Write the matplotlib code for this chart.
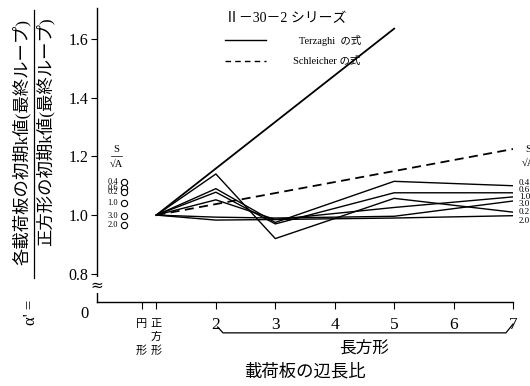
import matplotlib
matplotlib.use('Agg')
import matplotlib.pyplot as plt
from matplotlib.transforms import blended_transform_factory

plt.rcParams['font.family'] = ['Liberation Serif', 'Noto Sans CJK JP']

# 載荷板の辺長比 (1 = 正方形)
ratio = [1, 2, 3, 5, 7]
s_labels = ['0.4', '0.6', '0.2', '1.0', '3.0', '2.0']
a_04 = [1.0, 1.09, 0.975, 1.115, 1.10]
a_06 = [1.0, 1.078, 0.97, 1.076, 1.076]
a_02 = [1.0, 1.14, 0.92, 1.057, 1.01]
a_10 = [1.0, 1.052, 0.985, 1.026, 1.062]
a_30 = [1.0, 0.993, 0.99, 0.996, 1.048]
a_20 = [1.0, 0.983, 0.985, 0.99, 0.998]
# 円形板の値
circle_x = 0.45
circle_vals = [1.113, 1.091, 1.077, 1.040, 0.997, 0.966]
# 理論式
terz_x = [1, 5]
terz_y = [1.0, 1.635]
schl_x = [1, 7]
schl_y = [1.0, 1.225]

yticks = [0.8, 1.0, 1.2, 1.4, 1.6]
xticks = [2, 3, 4, 5, 6, 7]

fig = plt.figure(figsize=(5.3, 3.86), dpi=100)
ax = fig.add_axes([0.183, 0.2176, 0.785, 0.7614])
ax.set_xlim(0, 7)
ax.set_ylim(0.704, 1.705)

for ys in [a_04, a_06, a_02, a_10, a_30, a_20]:
    ax.plot(ratio, ys, color='black', lw=1.0)
ax.plot(terz_x, terz_y, color='black', lw=1.3)
ax.plot(schl_x, schl_y, color='black', lw=1.3, dashes=(5, 3))
ax.plot([circle_x] * len(circle_vals), circle_vals, 'o', mfc='white',
        mec='black', ms=4.5, mew=0.8, clip_on=False)

for s in ['top', 'right']:
    ax.spines[s].set_visible(False)
ax.spines['left'].set_linewidth(1.0)
ax.spines['bottom'].set_linewidth(1.0)

ax.set_yticks(yticks)
ax.set_yticklabels([f'{v:.1f}' for v in yticks], fontsize=11.5)
ax.set_xticks([0.75, 1] + xticks)
ax.set_xticklabels(['', ''] + [str(v) for v in xticks], fontsize=12.5)
ax.tick_params(axis='y', length=4, width=0.8, direction='out', pad=2)
ax.tick_params(axis='x', length=5, width=0.8, direction='out', pad=6)

bt = blended_transform_factory(ax.transData, ax.transAxes)
bl = blended_transform_factory(ax.transAxes, ax.transData)

# 縦軸の省略記号と原点
ax.text(0, 0.762, '≈', transform=bl, ha='center', va='center', fontsize=11,
        family='DejaVu Sans',
        bbox=dict(boxstyle='square,pad=0.05', fc='white', ec='none'))
ax.text(-0.02, -0.04, '0', transform=ax.transAxes, ha='right', va='center',
        fontsize=12)

# 円形・正方形
ax.text(0.75, -0.075, '円', transform=bt, ha='center', va='center', fontsize=8)
ax.text(0.75, -0.165, '形', transform=bt, ha='center', va='center', fontsize=8)
ax.text(1, -0.075, '正', transform=bt, ha='center', va='center', fontsize=8)
ax.text(1, -0.12, '方', transform=bt, ha='center', va='center', fontsize=8)
ax.text(1, -0.165, '形', transform=bt, ha='center', va='center', fontsize=8)

# 長方形の括弧
ax.plot([xticks[0] + 0.03, xticks[0] + 0.12, xticks[-1] - 0.12, xticks[-1]],
        [-0.085, -0.105, -0.105, -0.075], transform=bt, color='black', lw=0.9,
        clip_on=False)
ax.text(4.5, -0.16, '長方形', transform=bt, ha='center', va='center', fontsize=12)
ax.text(3.5, -0.24, '載荷板の辺長比', transform=bt, ha='center', va='center',
        fontsize=12.5)

# 縦軸ラベル
fig.text(22 / 530, 1 - 142 / 386, '各載荷板の初期k値(最終ループ)', rotation=90,
         ha='center', va='center', fontsize=12.5)
fig.text(45 / 530, 1 - 132 / 386, '正方形の初期k値(最終ループ)', rotation=90,
         ha='center', va='center', fontsize=12.5)
fig.add_artist(plt.Line2D([33.5 / 530, 33.5 / 530], [1 - 278 / 386, 1 - 10 / 386],
                          color='black', lw=0.9))
fig.text(31 / 530, 1 - 312 / 386, "α' =", rotation=90, ha='center', va='center',
         fontsize=12)

# S/√A の凡例(左・右)
ax.text(0.33, 1.225, 'S', ha='center', va='center', fontsize=7.5)
ax.plot([0.24, 0.42], [1.2, 1.2], color='black', lw=0.5)
ax.text(0.33, 1.173, '√A', ha='center', va='center', fontsize=7.5)
for lab, v in zip(s_labels, circle_vals):
    ax.text(circle_x - 0.1, v, lab, ha='right', va='center', fontsize=6)

right_pos = [1.111, 1.087, 1.061, 1.037, 1.010, 0.980]
right_labels = ['0.4', '0.6', '1.0', '3.0', '0.2', '2.0']
for lab, v in zip(right_labels, right_pos):
    ax.text(7.1, v, lab, ha='left', va='center', fontsize=6.5, clip_on=False)
ax.text(7.25, 1.225, 'S', ha='center', va='center', fontsize=7.5)
ax.text(7.25, 1.175, '√A', ha='center', va='center', fontsize=7.5)

# 凡例
ax.text(2.15, 1.67, 'Ⅱ－30－2 シリーズ', ha='left', va='center', fontsize=10)
ax.plot([2.15, 2.85], [1.595, 1.595], color='black', lw=1.0)
ax.text(3.4, 1.595, 'Terzaghi  の式', ha='left', va='center', fontsize=7.5)
ax.plot([2.15, 2.85], [1.525, 1.525], color='black', lw=1.0, dashes=(4, 3))
ax.text(3.3, 1.525, 'Schleicher の式', ha='left', va='center', fontsize=7.5)

fig.savefig('out.png', dpi=100)
